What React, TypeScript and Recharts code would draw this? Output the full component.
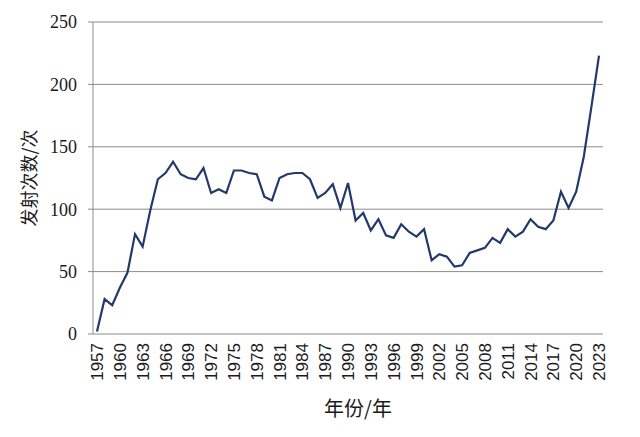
import React from "react";
import {
  CartesianGrid,
  Line,
  LineChart,
  XAxis,
  YAxis,
} from "recharts";

const years = [
  "1957", "1958", "1959", "1960", "1961", "1962", "1963", "1964", "1965", "1966",
  "1967", "1968", "1969", "1970", "1971", "1972", "1973", "1974", "1975", "1976",
  "1977", "1978", "1979", "1980", "1981", "1982", "1983", "1984", "1985", "1986",
  "1987", "1988", "1989", "1990", "1991", "1992", "1993", "1994", "1995", "1996",
  "1997", "1998", "1999", "2000", "2001", "2002", "2003", "2004", "2005", "2006",
  "2007", "2008", "2009", "2010", "2011", "2012", "2013", "2014", "2015", "2016",
  "2017", "2018", "2019", "2020", "2021", "2022", "2023",
];

const launches = [
  2, 28, 23, 37, 49, 80, 70, 99, 124, 129,
  138, 128, 125, 124, 133, 113, 116, 113, 131, 131,
  129, 128, 110, 107, 125, 128, 129, 129, 124, 109,
  113, 120, 101, 121, 91, 97, 83, 92, 79, 77,
  88, 82, 78, 84, 59, 64, 62, 54, 55, 65,
  67, 69, 77, 73, 84, 78, 82, 92, 86, 84,
  91, 114, 101, 114, 142, 182, 223,
];

const yTicks = [0, 50, 100, 150, 200, 250];
const labelEvery = 3;

const data = years.map((year, i) => ({ year, value: launches[i] }));
const boundaryTicks = years.map((_, i) => i).concat(years.length);

const YearTick = (props: any) => {
  const { x, y, index, payload } = props;
  if (index % labelEvery !== 0) return <g />;
  return (
    <text
      x={x}
      y={y}
      transform={`rotate(-90, ${x}, ${y})`}
      textAnchor="end"
      dy="0.36em"
      fill="#1a1a1a"
      fontSize={17}
      fontFamily="'Liberation Sans', Arial, sans-serif"
    >
      {payload.value}
    </text>
  );
};

export default function App() {
  return (
    <div style={{ position: "absolute", left: 0, top: 0, background: "#fff" }}>
      <LineChart
        width={640}
        height={437}
        data={data}
        margin={{ top: 22, right: 37, bottom: 0, left: 0 }}
      >
        <CartesianGrid
          vertical={false}
          stroke="#8c8c8c"
          strokeWidth={1}
          xAxisId="bands"
        />
        <XAxis
          xAxisId="bands"
          type="number"
          domain={[0, years.length]}
          ticks={boundaryTicks}
          interval={0}
          height={0}
          tick={false}
          tickSize={4}
          stroke="#8c8c8c"
          allowDataOverflow
        />
        <XAxis
          xAxisId="years"
          dataKey="year"
          interval={0}
          height={103}
          padding={{ left: 4, right: 4 }}
          axisLine={false}
          tickLine={false}
          tickSize={0}
          tickMargin={9}
          tick={<YearTick />}
          label={{
            value: "年份/年",
            position: "center",
            dx: 10,
            dy: 23,
            fontSize: 20,
            fill: "#1a1a1a",
            fontFamily: "'Noto Sans CJK SC', sans-serif",
          }}
        />
        <YAxis
          domain={[0, 250]}
          ticks={yTicks}
          width={93}
          tickSize={5}
          tickMargin={11}
          stroke="#8c8c8c"
          tick={{
            fill: "#1a1a1a",
            fontSize: 18,
            fontFamily: "'Liberation Serif', 'Times New Roman', serif",
          }}
          label={{
            value: "发射次数/次",
            angle: -90,
            position: "center",
            dx: -17,
            fontSize: 18,
            fill: "#1a1a1a",
            fontFamily: "'Noto Sans CJK SC', sans-serif",
          }}
        />
        <Line
          xAxisId="years"
          type="linear"
          dataKey="value"
          stroke="#22396b"
          strokeWidth={2.2}
          dot={false}
          isAnimationActive={false}
        />
      </LineChart>
    </div>
  );
}
